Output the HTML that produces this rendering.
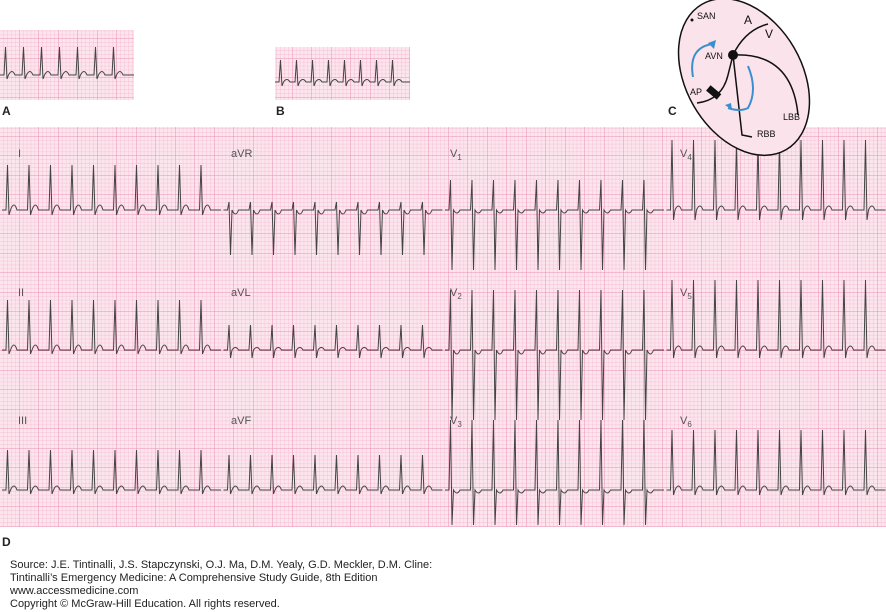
<!DOCTYPE html>
<html><head><meta charset="utf-8"><style>
body{margin:0;width:886px;height:612px;background:#fff;overflow:hidden;position:relative;font-family:"Liberation Sans",sans-serif}
.t{position:absolute;font-size:11px;color:#222;line-height:13px}
.L{position:absolute;font-size:12px;font-weight:bold;color:#222}
.ld{position:absolute;font-size:11px;color:#555}
svg{position:absolute;left:0;top:0}
</style></head><body>
<svg width="886" height="612" id="s">
<defs>
<pattern id="sm" width="3.9" height="3.9" patternUnits="userSpaceOnUse"><path d="M3.9 0V3.9H0" fill="none" stroke="#f4b3cb" stroke-width="0.7"/></pattern>
<pattern id="lg" width="19.5" height="19.5" patternUnits="userSpaceOnUse"><rect width="19.5" height="19.5" fill="url(#sm)"/><path d="M19.5 0V19.5H0" fill="none" stroke="#ee8fb3" stroke-width="1"/></pattern>
<clipPath id="cp"><rect x="0" y="127" width="886" height="400"/></clipPath>
</defs>
<rect x="0" y="30" width="134" height="70" fill="#fce6ee"/><rect x="0" y="30" width="134" height="70" fill="url(#lg)"/>
<rect x="275" y="47" width="135" height="53" fill="#fce6ee"/><rect x="275" y="47" width="135" height="53" fill="url(#lg)"/>
<rect x="0" y="127" width="886" height="400" fill="#fce6ee"/><rect x="0" y="127" width="886" height="400" fill="url(#lg)"/>
<g id="tr" fill="none" stroke="#444" stroke-width="1"></g>
<g id="tr2" fill="none" stroke="#444" stroke-width="1" clip-path="url(#cp)"></g>
<g transform="rotate(-30 744 77)"><ellipse cx="744" cy="77" rx="58" ry="84" fill="#fbe3ec" stroke="#111" stroke-width="1.5"/></g>
<g fill="none" stroke="#111" stroke-width="1.5">
<path d="M733 55 Q745 30 768 24"/><path d="M697 103 Q722 100 728 75 L733 55"/>
<path d="M733 55 L742 135 L752 137"/><path d="M733 55 Q792 52 798 115"/>
</g>
<circle cx="733" cy="55" r="5" fill="#111"/><circle cx="692" cy="20" r="1.5" fill="#111"/>
<rect x="707" y="89" width="14" height="7" transform="rotate(40 714 92)" fill="#111"/>
<g fill="none" stroke="#3b8fd0" stroke-width="2">
<path d="M693 77 Q688 48 712 44"/><path d="M748 66 Q758 90 748 108 Q740 112 728 108"/>
</g>
<path d="M716 40 L714 49 L708 43Z" fill="#3b8fd0"/><path d="M725 105 L732 110 L731 103Z" fill="#3b8fd0"/>
<g font-family="Liberation Sans,sans-serif" font-size="9" fill="#111">
<text x="697" y="19">SAN</text><text x="705" y="59">AVN</text><text x="690" y="95">AP</text>
<text x="783" y="120">LBB</text><text x="757" y="137">RBB</text>
<text x="744" y="24" font-size="12">A</text><text x="765" y="38" font-size="12">V</text>
</g>
</svg>
<div class="L" style="left:2px;top:104px">A</div>
<div class="L" style="left:276px;top:104px">B</div>
<div class="L" style="left:668px;top:104px">C</div>
<div class="L" style="left:2px;top:535px">D</div>
<div class="ld" style="left:18px;top:148px">I</div>
<div class="ld" style="left:231px;top:148px">aVR</div>
<div class="ld" style="left:450px;top:148px">V<sub style="font-size:8px">1</sub></div>
<div class="ld" style="left:680px;top:148px">V<sub style="font-size:8px">4</sub></div>
<div class="ld" style="left:18px;top:287px">II</div>
<div class="ld" style="left:231px;top:287px">aVL</div>
<div class="ld" style="left:450px;top:287px">V<sub style="font-size:8px">2</sub></div>
<div class="ld" style="left:680px;top:287px">V<sub style="font-size:8px">5</sub></div>
<div class="ld" style="left:18px;top:415px">III</div>
<div class="ld" style="left:231px;top:415px">aVF</div>
<div class="ld" style="left:450px;top:415px">V<sub style="font-size:8px">3</sub></div>
<div class="ld" style="left:680px;top:415px">V<sub style="font-size:8px">6</sub></div>
<div class="t" style="left:10px;top:559px">Source: J.E. Tintinalli, J.S. Stapczynski, O.J. Ma, D.M. Yealy, G.D. Meckler, D.M. Cline:<br>Tintinalli’s Emergency Medicine: A Comprehensive Study Guide, 8th Edition<br>www.accessmedicine.com<br>Copyright © McGraw-Hill Education.  All rights reserved.</div>
<script>
var ns='http://www.w3.org/2000/svg';
function beat(gid,x0,x1,base,sp,up,dn,t){var g=document.getElementById(gid),d='M'+x0+' '+base,x=x0+4;
 while(x<x1-6){d+=' L'+x+' '+base+' L'+(x+1.5)+' '+(base-up)+' L'+(x+3)+' '+(base+dn)+' L'+(x+4.5)+' '+base+' Q'+(x+8)+' '+(base-t)+' '+(x+11)+' '+base;x+=sp;}
 d+=' L'+x1+' '+base;var p=document.createElementNS(ns,'path');p.setAttribute('d',d);g.appendChild(p);}
beat('tr',0,134,75,18,28,4,7);beat('tr',275,410,82,16,22,4,5);
var rows=[210,350,490];
var cfg=[[[45,5,10],[50,4,10],[40,4,8]],[[8,45,-8],[25,8,5],[35,4,8]],[[30,60,-6],[60,70,-8],[70,35,-6]],[[70,10,8],[70,8,8],[60,5,8]]];
for(var c=0;c<4;c++)for(var r=0;r<3;r++){var k=cfg[c][r];beat('tr2',c*221.5+2,c*221.5+221,rows[r],21.5,k[0],k[1],k[2]);}
</script>
</body></html>
